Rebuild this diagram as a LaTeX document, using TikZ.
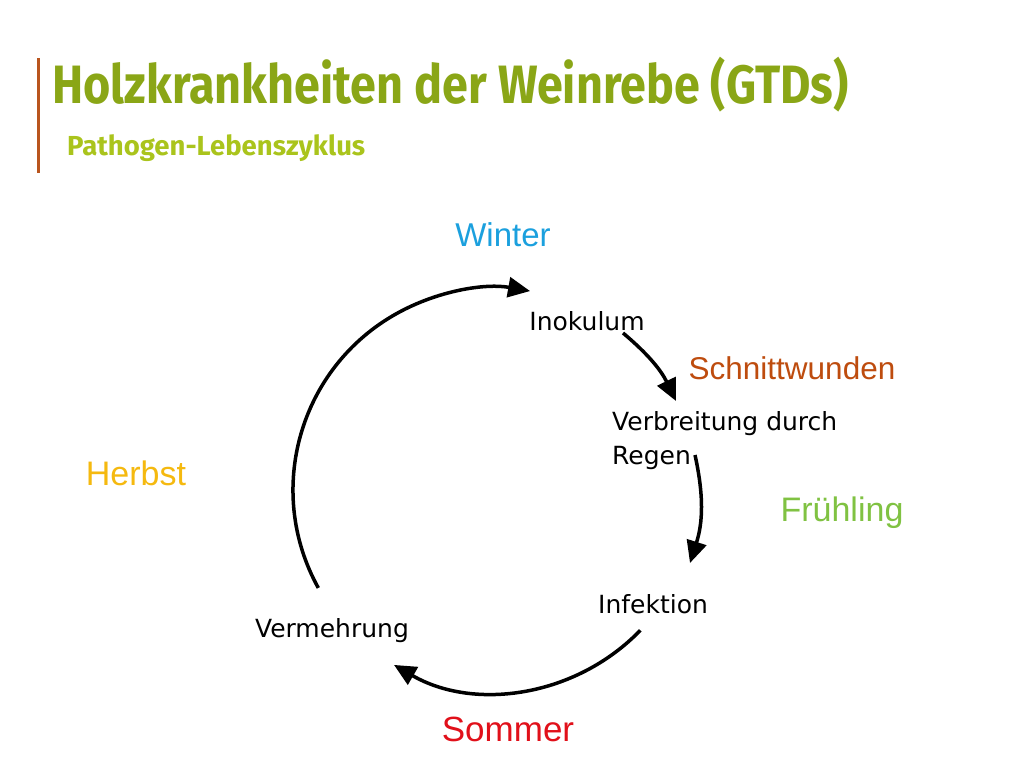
\documentclass[tikz,border=0pt]{standalone}
\usepackage{fontspec}
\usepackage{tikz}
\usetikzlibrary{arrows.meta}
\setmainfont{Liberation Sans}
\newfontfamily\titlefont[FakeStretch=0.865]{Fira Sans}
\newfontfamily\subfont{Fira Sans}
\newfontfamily\labelfont{DejaVu Sans}
\definecolor{titlegreen}{RGB}{138,166,22}
\definecolor{subgreen}{RGB}{170,196,28}
\definecolor{barbrown}{RGB}{185,85,30}
\definecolor{winterblue}{RGB}{27,160,222}
\definecolor{cutbrown}{RGB}{190,76,14}
\definecolor{springgreen}{RGB}{128,194,66}
\definecolor{autumnyellow}{RGB}{245,185,15}
\definecolor{summerred}{RGB}{225,16,26}
\tikzset{
  stage/.style={anchor=base, inner sep=0pt, font=\labelfont\fontsize{25}{34.5}\selectfont},
  season/.style={anchor=base, inner sep=0pt},
  cyc/.style={line width=3.5pt, -{Triangle[length=22pt,width=20pt]}}
}
\begin{document}
\begin{tikzpicture}[x=1pt, y=1pt]
                \useasboundingbox (0,0) rectangle (1024,768);
                \fill[white] (0,0) rectangle (1024,768);
                % title
                \fill[barbrown] (36.5,595) rectangle (40,710);
                \node[anchor=base west, inner sep=0pt, text=titlegreen, font=\titlefont\bfseries\fontsize{54}{60}\selectfont] (title) at (52,664) {Holzkrankheiten der Weinrebe (GTDs)};
                \node[anchor=base west, inner sep=0pt, text=subgreen, font=\subfont\bfseries\fontsize{27.5}{32}\selectfont] (subtitle) at (67,612) {Pathogen-Lebenszyklus};
                % seasons
                \node[season, text=winterblue, font=\fontsize{33}{36}\selectfont] (winter) at (503,521) {Winter};
                \node[season, text=cutbrown, font=\fontsize{31.5}{36}\selectfont] (schnitt) at (792,388) {Schnittwunden};
                \node[season, text=autumnyellow, font=\fontsize{34}{36}\selectfont] (herbst) at (136,282) {Herbst};
                \node[season, text=springgreen, font=\fontsize{34}{36}\selectfont] (frueh) at (842,246) {Frühling};
                \node[season, text=summerred, font=\fontsize{35}{38}\selectfont] (sommer) at (508,27) {Sommer};
                % stages
                \node[stage] (inok) at (587,437) {Inokulum};
                \node[stage, anchor=base west, align=left] (verb) at (612,303) {Verbreitung durch\\Regen};
                \node[stage] (infek) at (653,154) {Infektion};
                \node[stage] (vermehr) at (332,131) {Vermehrung};
                % cycle
                \coordinate (hub) at (495,278);
                \coordinate (inok-out) at (623,435);
                \coordinate (verb-in) at (676,367);
                \coordinate (verb-out) at (695,313);
                \coordinate (infek-in) at (690,205);
                \draw[cyc] (inok-out) to[bend left=12] (verb-in);
                \draw[cyc] (verb-out) to[bend left=15] (infek-in);
                \draw[cyc] (hub) ++(-44:202) arc[start angle=-44, end angle=-120, radius=202];
                \draw[cyc] (hub) ++(209:202) arc[start angle=209, end angle=80, radius=202];
            \end{tikzpicture}
\end{document}
